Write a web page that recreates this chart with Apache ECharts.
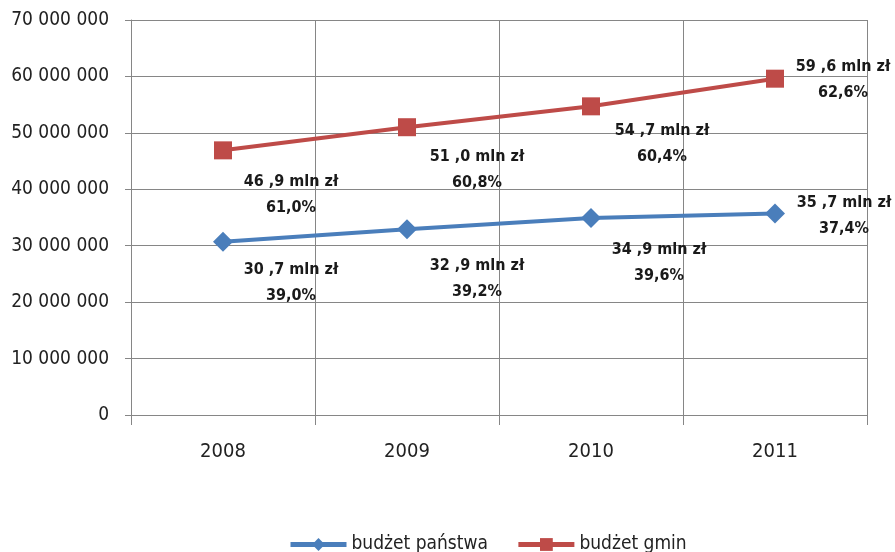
<!DOCTYPE html>
<html><head><meta charset="utf-8">
<script src="https://cdn.jsdelivr.net/npm/echarts@6/dist/echarts.min.js"></script>
<style>html,body{margin:0;padding:0;background:#fff}#c{width:895px;height:552px}</style>
</head><body><div id="c"></div>
<script>
const years = ['2008', '2009', '2010', '2011'];
const panstwa = [30700000, 32900000, 34900000, 35700000];
const gmin = [46900000, 51000000, 54700000, 59600000];
const panstwaShare = ['39,0%', '39,2%', '39,6%', '37,4%'];
const gminShare = ['61,0%', '60,8%', '60,4%', '62,6%'];

const FONT = "'DejaVu Sans Condensed','Open Sans',sans-serif";
const gminOffsets = [[68, 44], [70, 43], [71, 38], [68, 1]];
const panstwaOffsets = [[68, 41], [70, 49], [68, 45], [69, 2]];

function fmt(v) { return (v / 1e6).toFixed(1).replace('.', ' ,') + ' mln zł'; }
function build(values, shares, offsets) {
  return values.map((v, i) => ({
    value: v,
    label: {
      show: true, position: 'inside', offset: offsets[i],
      formatter: fmt(v) + '\n' + shares[i],
      fontFamily: FONT, fontWeight: 'bold', fontSize: 16, lineHeight: 26,
      color: '#1a1a1a', align: 'center'
    }
  }));
}

const chart = echarts.init(document.getElementById('c'));
chart.setOption({
  animation: false,
  grid: { left: 131, right: 28, top: 20, bottom: 137 },
  legend: {
    bottom: -7, left: 283, itemWidth: 56, itemHeight: 16, itemGap: 28,
    textStyle: { fontFamily: FONT, fontSize: 19, color: '#222' },
    data: [
      { name: 'budżet państwa', lineStyle: { width: 5 } },
      { name: 'budżet gmin', lineStyle: { width: 5 } }
    ]
  },
  xAxis: {
    type: 'category', data: years, boundaryGap: true,
    axisLine: { show: true, lineStyle: { color: '#868686', width: 1 } },
    axisTick: { show: true, length: 10, lineStyle: { color: '#868686' } },
    splitLine: { show: true, lineStyle: { color: '#868686', width: 1 } },
    axisLabel: { fontFamily: FONT, fontSize: 20, color: '#222', margin: 27 }
  },
  yAxis: {
    type: 'value', min: 0, max: 70000000, interval: 10000000,
    axisLine: { show: true, lineStyle: { color: '#868686' } },
    axisTick: { show: true, length: 6, lineStyle: { color: '#868686' } },
    splitLine: { show: true, lineStyle: { color: '#868686', width: 1 } },
    axisLabel: {
      fontFamily: FONT, fontSize: 19, color: '#222', margin: 22,
      formatter: v => String(v).replace(/\B(?=(\d{3})+(?!\d))/g, ' ')
    }
  },
  series: [
    {
      name: 'budżet państwa', type: 'line', data: build(panstwa, panstwaShare, panstwaOffsets),
      symbol: 'diamond', symbolSize: 20,
      lineStyle: { color: '#4A7EBB', width: 4 },
      itemStyle: { color: '#4A7EBB' }
    },
    {
      name: 'budżet gmin', type: 'line', data: build(gmin, gminShare, gminOffsets),
      symbol: 'rect', symbolSize: 18,
      lineStyle: { color: '#BE4B48', width: 4 },
      itemStyle: { color: '#BE4B48' }
    }
  ]
});
</script></body></html>
